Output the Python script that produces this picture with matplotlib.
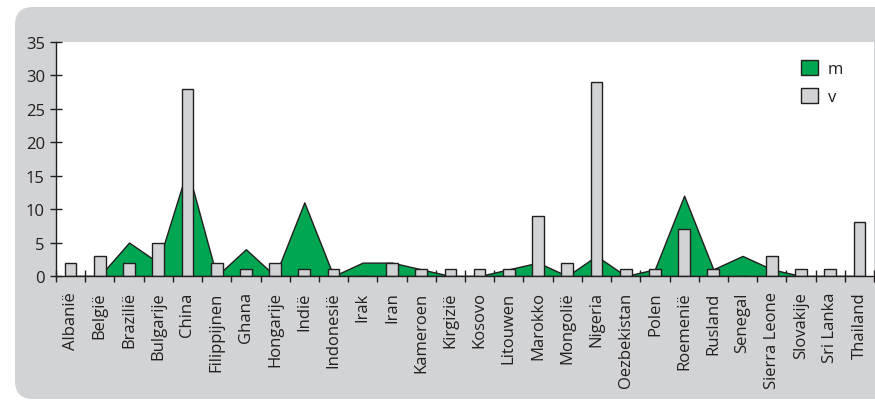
import matplotlib
matplotlib.use("Agg")
import matplotlib.pyplot as plt
from matplotlib.patches import FancyBboxPatch, Patch
from matplotlib.transforms import IdentityTransform
import numpy as np

landen = ["Albanië", "België", "Brazilië", "Bulgarije", "China", "Filippijnen",
          "Ghana", "Hongarije", "Indië", "Indonesië", "Irak", "Iran", "Kameroen",
          "Kirgizië", "Kosovo", "Litouwen", "Marokko", "Mongolië", "Nigeria",
          "Oezbekistan", "Polen", "Roemenië", "Rusland", "Senegal", "Sierra Leone",
          "Slovakije", "Sri Lanka", "Thailand"]
m = [0, 0, 5, 2, 16, 0, 4, 0, 11, 0, 2, 2, 1, 0, 0, 1, 2, 0, 3, 0, 1, 12, 1, 3, 1, 0, 0, 0]
v = [2, 3, 2, 5, 28, 2, 1, 2, 1, 1, 0, 2, 1, 1, 1, 1, 9, 2, 29, 1, 1, 7, 1, 0, 3, 1, 1, 8]

donker = "#231f20"
groen = "#00a651"
grijs = "#d1d3d4"

plt.rcParams["font.family"] = ["Open Sans", "DejaVu Sans"]

W, H = 875, 402
fig = plt.figure(figsize=(W / 100, H / 100), dpi=100)
fig.patch.set_facecolor("white")

# grijze achtergrond met ronde hoeken (pixelcoordinaten)
bg = FancyBboxPatch((15, 2), 900, 392, boxstyle="round,pad=0,rounding_size=18",
                    transform=IdentityTransform(), facecolor=grijs, edgecolor="none",
                    zorder=-10)
fig.patches.append(bg)

ax = fig.add_axes([56 / W, (H - 277) / H, (874 - 56) / W, (277 - 42.7) / H])
ax.set_facecolor("white")

x = np.arange(len(landen))
ax.fill_between(x, m, 0, facecolor=groen, edgecolor=donker, linewidth=1.0, zorder=2)
ax.bar(x, v, width=0.4, color=grijs, edgecolor=donker, linewidth=1.0, zorder=3)

ax.set_xlim(-0.5, len(landen) - 0.5)
ax.set_ylim(0, 35)
ax.set_yticks(range(0, 36, 5))

ax.set_xticks(x)
ax.set_xticklabels(landen, rotation=90)
ax.set_xticks(np.arange(-0.5, len(landen), 1), minor=True)
ax.tick_params(axis="x", which="major", length=0, pad=11, labelsize=12, labelcolor=donker)
ax.tick_params(axis="x", which="minor", direction="inout", length=8, width=1.0, color=donker)
ax.tick_params(axis="y", direction="inout", length=8, width=1.0, color=donker,
               pad=4, labelsize=12, labelcolor=donker)

for s in ["top", "right"]:
    ax.spines[s].set_visible(False)
for s in ["left", "bottom"]:
    ax.spines[s].set_color(donker)
    ax.spines[s].set_linewidth(1.0)
    ax.spines[s].set_zorder(4)

handles = [Patch(facecolor=groen, edgecolor=donker, linewidth=1.0, label="m"),
           Patch(facecolor=grijs, edgecolor=donker, linewidth=1.0, label="v")]
fig.legend(handles=handles, loc="upper left", bbox_to_anchor=(801 / W, (H - 61) / H),
           frameon=False, fontsize=12, handlelength=1.0, handleheight=1.0,
           handletextpad=0.6, labelspacing=0.65, borderpad=0, borderaxespad=0,
           labelcolor=donker)

fig.savefig("out.png", dpi=100)
